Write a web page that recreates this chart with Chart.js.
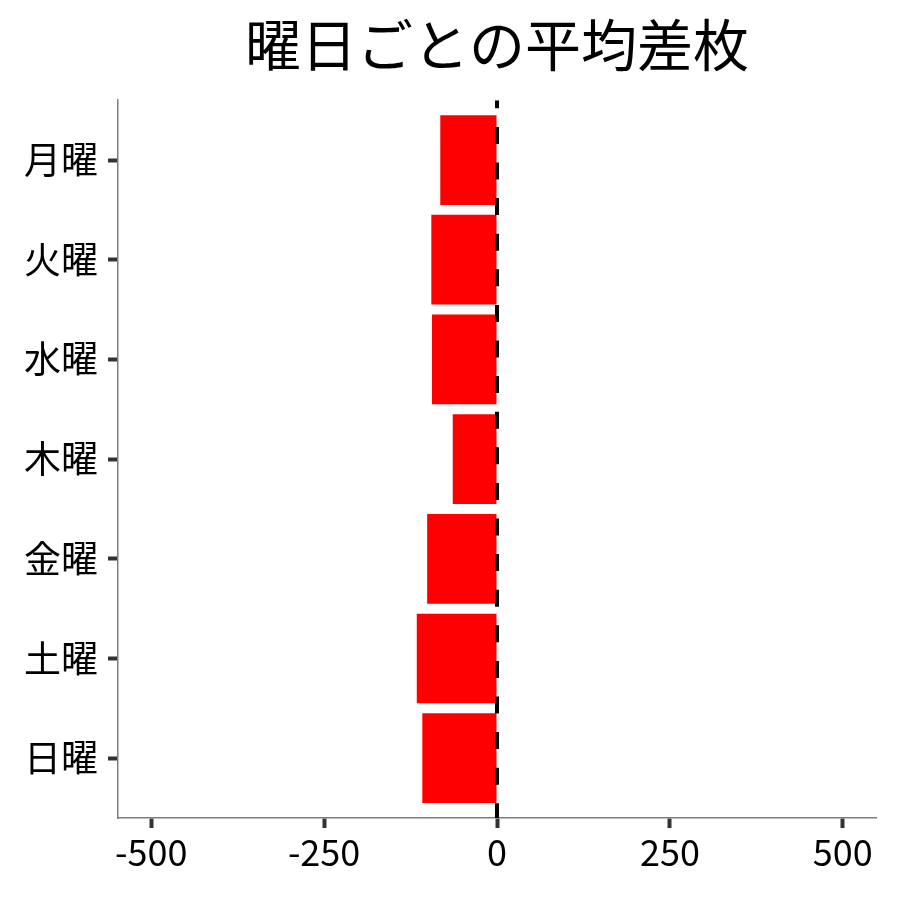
<!DOCTYPE html>
<html>
<head>
<meta charset="utf-8">
<script src="https://cdn.jsdelivr.net/npm/chart.js@4/dist/chart.umd.min.js"></script>
<style>
  html, body { margin: 0; padding: 0; background: #fff; }
  #wrap { width: 900px; height: 900px; }
</style>
</head>
<body>
<div id="wrap"><canvas id="chart"></canvas></div>
<script>
const days = ['月曜', '火曜', '水曜', '木曜', '金曜', '土曜', '日曜'];
const avgDiff = [-82, -95, -94, -64, -101, -116, -108];
const xTicks = [-500, -250, 0, 250, 500];

const FONT = "'Noto Sans CJK JP', 'Noto Sans', sans-serif";

// dashed line at x = 0
const zeroLine = {
    id: 'zeroLine',
    afterDatasetsDraw(chart) {
        const { ctx, chartArea, scales } = chart;
        const x = scales.x.getPixelForValue(0);
        ctx.save();
        ctx.beginPath();
        ctx.rect(chartArea.left, chartArea.top, chartArea.right - chartArea.left, chartArea.bottom - chartArea.top);
        ctx.clip();
        ctx.strokeStyle = '#000';
        ctx.lineWidth = 4;
        ctx.setLineDash([17, 18.6]);
        ctx.lineDashOffset = 8.9;
        ctx.beginPath();
        ctx.moveTo(x, chartArea.top);
        ctx.lineTo(x, chartArea.bottom);
        ctx.stroke();
        ctx.restore();
    }
};

new Chart(document.getElementById('chart'), {
    type: 'bar',
    data: {
        datasets: [{
            data: avgDiff.map((v, i) => ({ x: v, y: i })),
            backgroundColor: '#ff0000',
            borderWidth: 0,
            barPercentage: 0.9,
            categoryPercentage: 1
        }]
    },
    options: {
        indexAxis: 'y',
        responsive: true,
        maintainAspectRatio: false,
        animation: false,
        layout: { padding: { left: 0, right: 24, top: 0, bottom: 0 } },
        plugins: {
            legend: { display: false },
            tooltip: { enabled: false },
            title: {
                display: true,
                fullSize: false,
                text: '曜日ごとの平均差枚',
                color: '#000',
                font: { family: FONT, size: 56, weight: 'normal', lineHeight: 1.2 },
                padding: { top: 11, bottom: 22 }
            }
        },
        scales: {
            x: {
                type: 'linear',
                min: -548,
                max: 548,
                afterBuildTicks: (scale) => { scale.ticks = xTicks.map(v => ({ value: v })); },
                afterFit: (scale) => { scale.height = 82; },
                ticks: {
                    color: '#000',
                    font: { family: FONT, size: 36 },
                    padding: 3,
                    maxRotation: 0,
                    callback: (v) => String(v)
                },
                grid: {
                    display: true,
                    drawOnChartArea: false,
                    drawTicks: true,
                    tickLength: 10,
                    tickWidth: 4,
                    tickColor: '#333'
                },
                border: { display: true, color: '#7f7f7f', width: 1.5 }
            },
            y: {
                type: 'linear',
                reverse: true,
                offset: false,
                min: -0.6,
                max: 6.6,
                afterBuildTicks: (scale) => { scale.ticks = days.map((d, i) => ({ value: i })); },
                afterFit: (scale) => { scale.width = 118; },
                ticks: {
                    color: '#000',
                    font: { family: FONT, size: 37 },
                    padding: 10,
                    callback: (v) => days[v]
                },
                grid: {
                    display: true,
                    offset: false,
                    drawOnChartArea: false,
                    drawTicks: true,
                    tickLength: 10,
                    tickWidth: 4,
                    tickColor: '#333'
                },
                border: { display: true, color: '#7f7f7f', width: 1.5 }
            }
        }
    },
    plugins: [zeroLine]
});
</script>
</body>
</html>
